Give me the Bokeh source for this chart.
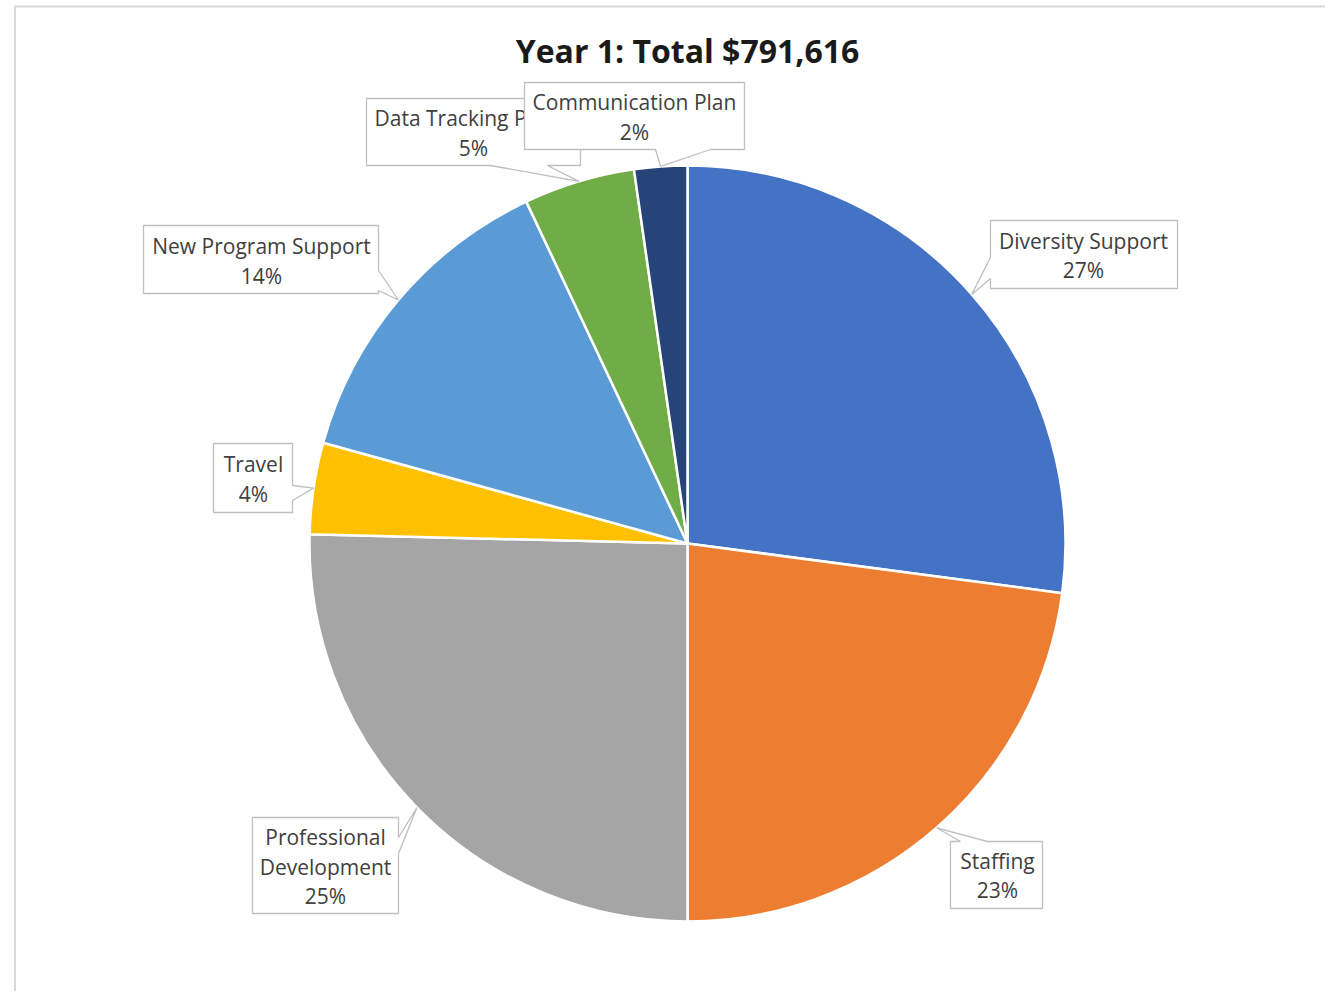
import numpy as np
from bokeh.plotting import figure
from bokeh.models import Range1d
from bokeh.core.properties import value
from bokeh.embed import file_html
from bokeh.resources import INLINE

# ---------------- data ----------------
title_text = "Year 1: Total $791,616"
categories = ["Diversity Support", "Staffing", "Professional Development", "Travel",
              "New Program Support", "Data Tracking Plan", "Communication Plan"]
amounts = [214500, 181300, 201000, 30900, 108400, 37600, 17916]
colors = ["#4472C4", "#ED7D31", "#A5A5A5", "#FFC000", "#5B9BD5", "#70AD47", "#264478"]

# ---------------- layout (screen px) ----------------
W, H = 1325, 991
CX, CY, R = 687, 543, 378
boxes = [
    dict(box=(990, 220, 1177, 288), side="left", base=(257, 278), tx=1083, ty=[240, 269], align="center", lines=["Diversity Support"]),
    dict(box=(950, 841, 1042, 908), side="top", base=(960, 987), tx=997, ty=[860, 889], align="center", lines=["Staffing"]),
    dict(box=(252, 817, 398, 913), side="right", base=(837, 853), tx=325, ty=[836, 866, 895], align="center", lines=["Professional", "Development"]),
    dict(box=(213, 443, 292, 512), side="right", base=(485, 500), tx=253, ty=[463, 493], align="center", lines=["Travel"]),
    dict(box=(143, 225, 378, 293), side="right", base=(270, 290), tx=261, ty=[245, 275], align="center", lines=["New Program Support"]),
    dict(box=(366, 98, 580, 165), side="bottom", base=(490, 547), tx=374, ty=[117, 147], align="left", lines=["Data Tracking Plan"]),
    dict(box=(524, 82, 744, 149), side="bottom", base=(655, 710), tx=634, ty=[101, 131], align="center", lines=["Communication Plan"]),
]

p = figure(width=W, height=H, x_range=Range1d(0, W), y_range=Range1d(-H, 0),
           output_backend="svg", toolbar_location=None, min_border=0,
           background_fill_color="white", border_fill_color="white")
p.axis.visible = False
p.grid.visible = False
p.outline_line_color = None

# frame
p.line([14.5, 14.5], [-6, -H], line_color="#d9d9d9", line_width=2)
p.line([14, W], [-6, -6], line_color="#d9d9d9", line_width=2)

# pie
vals = np.array(amounts, dtype=float)
total = vals.sum()
frac = vals / total
cum_after = np.cumsum(frac)
cum_before = cum_after - frac
starts = np.pi / 2 - 2 * np.pi * cum_before
ends = np.pi / 2 - 2 * np.pi * cum_after
p.wedge(x=CX, y=-CY, radius=R, start_angle=list(starts), end_angle=list(ends),
        direction="clock", fill_color=colors, line_color="white", line_width=2.5)

# callouts
for i, spec in enumerate(boxes):
    mid = cum_before[i] + frac[i] / 2
    th = np.pi / 2 - 2 * np.pi * mid
    tipx = CX + R * np.cos(th)
    tipy = CY - R * np.sin(th)  # screen y
    l, t, r, b = spec["box"]
    a1, a2 = spec["base"]
    s = spec["side"]
    if s == "top":
        pts = [(l, t), (a1, t), (tipx, tipy), (a2, t), (r, t), (r, b), (l, b)]
    elif s == "right":
        pts = [(l, t), (r, t), (r, a1), (tipx, tipy), (r, a2), (r, b), (l, b)]
    elif s == "bottom":
        pts = [(l, t), (r, t), (r, b), (a2, b), (tipx, tipy), (a1, b), (l, b)]
    else:
        pts = [(l, t), (r, t), (r, b), (l, b), (l, a2), (tipx, tipy), (l, a1)]
    p.patch([q[0] for q in pts], [-q[1] for q in pts], fill_color="white",
            line_color="#bfbfbf", line_width=1.3)
    pct = f"{round(100 * frac[i]):.0f}%"
    lines = spec["lines"] + [pct]
    for j, txt in enumerate(lines):
        align = spec["align"] if j < len(lines) - 1 else "center"
        x = spec["tx"]
        if spec["align"] == "left" and j == len(lines) - 1:
            x = (l + r) / 2
        p.text(x=[x], y=[-spec["ty"][j]], text=[txt], text_font=value("Open Sans"),
               text_font_size="21px", text_color="#404040", text_align=align,
               text_baseline="middle")

# title
p.text(x=[CX], y=[-50], text=[title_text], text_font=value("Open Sans"),
       text_font_size="32px", text_font_style="bold", text_color="#1a1a1a",
       text_align="center", text_baseline="middle")

open("out.html", "w").write(file_html(p, INLINE))
